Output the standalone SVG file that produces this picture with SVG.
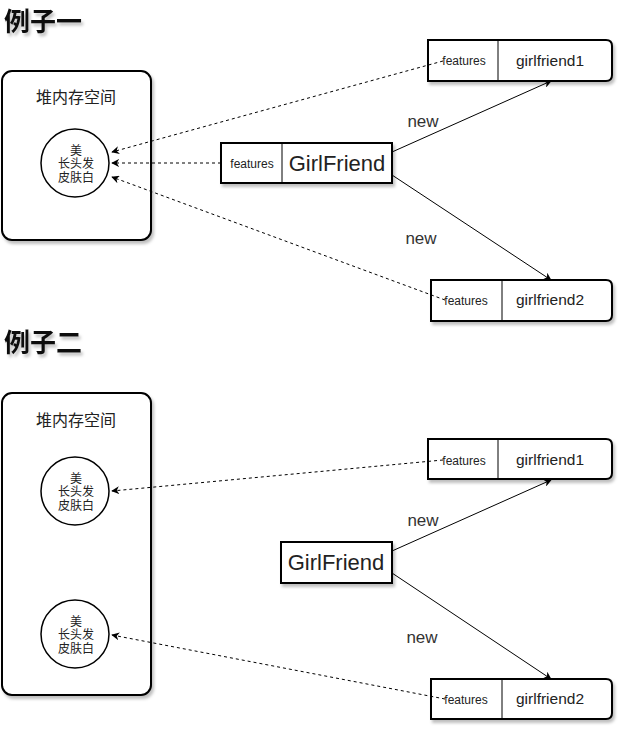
<svg xmlns="http://www.w3.org/2000/svg" width="623" height="732" viewBox="0 0 623 732">
<style>
.b{fill:#fff;stroke:#000;stroke-width:2}
.c{fill:#fff;stroke:#000;stroke-width:1.5}
.t{font-family:"Liberation Sans","Noto Sans CJK SC",sans-serif;fill:#222;text-anchor:middle}
.h{font-family:"Liberation Sans","Noto Sans CJK SC",sans-serif;font-weight:bold;font-size:26px;fill:#111}
.f{font-size:12px}
.g{font-size:15.5px}
.n{font-size:17px;fill:#333}
.k{font-size:16px}
.cj{font-size:12px}
.d{fill:none;stroke:#000;stroke-width:1;stroke-dasharray:3 3}
.s{fill:none;stroke:#000;stroke-width:1}
</style>
<defs>
<filter id="sh" x="-10%" y="-10%" width="130%" height="140%"><feDropShadow dx="2" dy="3" stdDeviation="1.5" flood-color="#000" flood-opacity="0.25"/></filter>
<marker id="ah" viewBox="0 0 10 10" refX="9" refY="5" markerWidth="8" markerHeight="8" orient="auto" markerUnits="userSpaceOnUse"><path d="M0,0 L10,5 L0,10 L3,5 Z" fill="#000"/></marker>
</defs>
<rect width="623" height="732" fill="#fff"/>

<g id="heading1"><text class="h" x="4" y="31" filter="url(#sh)">例子一</text></g>
<g id="heap1">
<rect class="b" x="2" y="71" width="149" height="169" rx="10" filter="url(#sh)"/>
<text class="t k" x="76" y="103">堆内存空间</text>
</g>
<g id="obj1">
<circle class="c" cx="75" cy="163" r="34"/>
<text class="t cj" x="76" y="155">美</text>
<text class="t cj" x="76" y="168">长头发</text>
<text class="t cj" x="76" y="182">皮肤白</text>
</g>
<g id="class1">
<rect class="b" x="221" y="143" width="171" height="40" filter="url(#sh)"/>
<line class="s" x1="282" y1="143" x2="282" y2="183" stroke-width="2"/>
<text class="t f" x="252" y="168">features</text>
<text class="t" x="337" y="171" font-size="22">GirlFriend</text>
</g>
<g id="gf1a">
<path class="b" d="M428,40 H606 Q612,40 612,46 V75 Q612,81 606,81 H428 Z" filter="url(#sh)"/>
<line class="s" x1="498" y1="40" x2="498" y2="81" stroke-width="2"/>
<text class="t f" x="464" y="65">features</text>
<text class="t g" x="550" y="66">girlfriend1</text>
</g>
<g id="gf2a">
<path class="b" d="M431,280 H606 Q612,280 612,286 V315 Q612,321 606,321 H431 Z" filter="url(#sh)"/>
<line class="s" x1="502" y1="280" x2="502" y2="321" stroke-width="2"/>
<text class="t f" x="466" y="305">features</text>
<text class="t g" x="550" y="305">girlfriend2</text>
</g>
<g id="conn1">
<line class="d" x1="443" y1="61" x2="112" y2="152" marker-end="url(#ah)"/>
<line class="d" x1="221" y1="163" x2="112" y2="163" marker-end="url(#ah)"/>
<line class="d" x1="445" y1="300" x2="112" y2="177" marker-end="url(#ah)"/>
<line class="s" x1="392" y1="152" x2="551" y2="81" marker-end="url(#ah)"/>
<line class="s" x1="392" y1="175" x2="551" y2="280" marker-end="url(#ah)"/>
<text class="t n" x="423" y="127">new</text>
<text class="t n" x="421" y="244">new</text>
</g>

<g id="heading2"><text class="h" x="4" y="352" filter="url(#sh)">例子二</text></g>
<g id="heap2">
<rect class="b" x="2" y="393" width="149" height="302" rx="10" filter="url(#sh)"/>
<text class="t k" x="76" y="426">堆内存空间</text>
</g>
<g id="obj2">
<circle class="c" cx="75" cy="491" r="34"/>
<text class="t cj" x="76" y="483">美</text>
<text class="t cj" x="76" y="496">长头发</text>
<text class="t cj" x="76" y="510">皮肤白</text>
</g>
<g id="obj3">
<circle class="c" cx="75" cy="634" r="34"/>
<text class="t cj" x="76" y="626">美</text>
<text class="t cj" x="76" y="639">长头发</text>
<text class="t cj" x="76" y="653">皮肤白</text>
</g>
<g id="class2">
<rect class="b" x="281" y="542" width="111" height="41" filter="url(#sh)"/>
<text class="t" x="336" y="570" font-size="22">GirlFriend</text>
</g>
<g id="gf1b">
<path class="b" d="M428,439 H606 Q612,439 612,445 V473 Q612,479 606,479 H428 Z" filter="url(#sh)"/>
<line class="s" x1="498" y1="439" x2="498" y2="479" stroke-width="2"/>
<text class="t f" x="464" y="465">features</text>
<text class="t g" x="550" y="465">girlfriend1</text>
</g>
<g id="gf2b">
<path class="b" d="M431,679 H606 Q612,679 612,685 V713 Q612,719 606,719 H431 Z" filter="url(#sh)"/>
<line class="s" x1="502" y1="679" x2="502" y2="719" stroke-width="2"/>
<text class="t f" x="466" y="704">features</text>
<text class="t g" x="550" y="704">girlfriend2</text>
</g>
<g id="conn2">
<line class="d" x1="443" y1="460" x2="112" y2="491" marker-end="url(#ah)"/>
<line class="d" x1="445" y1="699" x2="112" y2="635" marker-end="url(#ah)"/>
<line class="s" x1="392" y1="551" x2="551" y2="480" marker-end="url(#ah)"/>
<line class="s" x1="392" y1="573" x2="551" y2="679" marker-end="url(#ah)"/>
<text class="t n" x="423" y="526">new</text>
<text class="t n" x="422" y="643">new</text>
</g>
</svg>
